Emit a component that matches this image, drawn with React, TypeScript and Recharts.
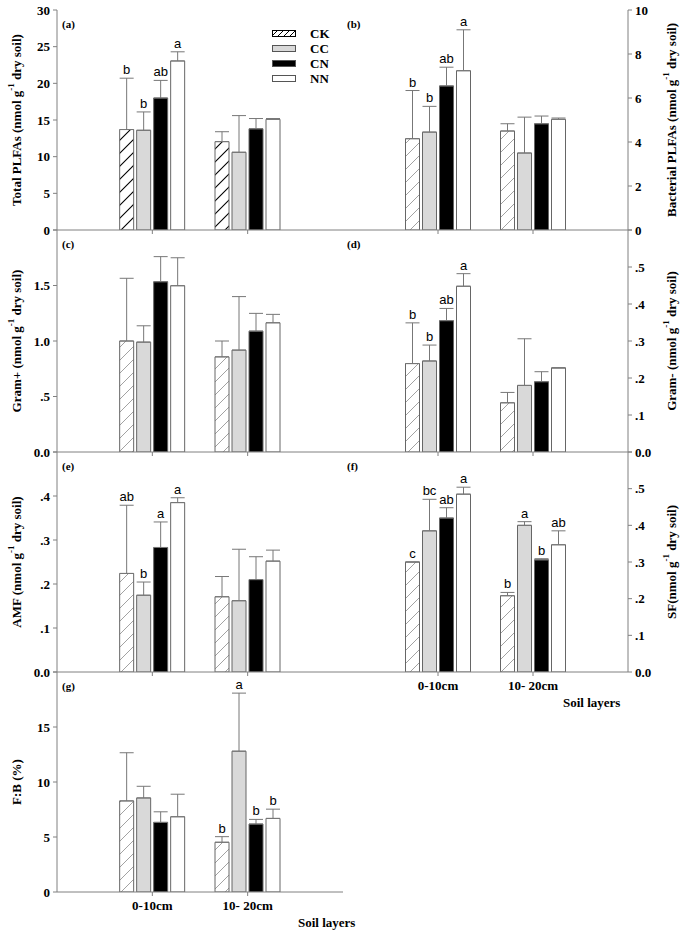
import React from "react";
import { Bar, BarChart, ErrorBar, LabelList, Legend, XAxis, YAxis } from "recharts";

const layers = ["0-10cm", "10- 20cm"];
const treatments = ["CK", "CC", "CN", "NN"];

// values read per layer: [CK, CC, CN, NN]; errors are the upper SD
const totalMean = [[13.7, 13.6, 18.0, 23.05], [12.05, 10.6, 13.8, 15.1]];
const totalErr = [[7.0, 2.5, 2.4, 1.25], [1.35, 5.0, 1.4, 0.1]];
const totalLetters = [["b", "b", "ab", "a"], ["", "", "", ""]];

const bactMean = [[4.15, 4.45, 6.55, 7.24], [4.5, 3.5, 4.83, 5.03]];
const bactErr = [[2.19, 1.17, 0.85, 1.86], [0.33, 1.63, 0.35, 0.06]];
const bactLetters = [["b", "b", "ab", "a"], ["", "", "", ""]];

const gposMean = [[1.0, 0.99, 1.534, 1.498], [0.857, 0.918, 1.089, 1.164]];
const gposErr = [[0.565, 0.147, 0.226, 0.252], [0.143, 0.482, 0.16, 0.076]];
const gposLetters = [["", "", "", ""], ["", "", "", ""]];

const gnegMean = [[0.239, 0.246, 0.355, 0.448], [0.133, 0.18, 0.19, 0.227]];
const gnegErr = [[0.11, 0.043, 0.033, 0.034], [0.028, 0.126, 0.027, 0.001]];
const gnegLetters = [["b", "b", "ab", "a"], ["", "", "", ""]];

const amfMean = [[0.224, 0.1745, 0.283, 0.385], [0.171, 0.162, 0.21, 0.252]];
const amfErr = [[0.155, 0.03, 0.058, 0.011], [0.046, 0.117, 0.052, 0.025]];
const amfLetters = [["ab", "b", "a", "a"], ["", "", "", ""]];

const sfMean = [[0.3, 0.385, 0.42, 0.485], [0.208, 0.4, 0.306, 0.347]];
const sfErr = [[0, 0.086, 0.028, 0.019], [0.009, 0.01, 0.003, 0.038]];
const sfLetters = [["c", "bc", "ab", "a"], ["b", "a", "b", "ab"]];

const fbMean = [[8.28, 8.55, 6.33, 6.84], [4.52, 12.8, 6.18, 6.69]];
const fbErr = [[4.38, 1.06, 0.96, 2.05], [0.51, 5.28, 0.42, 0.84]];
const fbLetters = [["", "", "", ""], ["b", "a", "b", "b"]];

const totalTicks = [0, 5, 10, 15, 20, 25, 30];
const bactTicks = [0, 2, 4, 6, 8, 10];
const gposTicks = [0, 0.5, 1.0, 1.5, 2.0];
const gnegTicks = [0, 0.1, 0.2, 0.3, 0.4, 0.5, 0.6];
const amfTicks = [0, 0.1, 0.2, 0.3, 0.4, 0.5];
const sfTicks = [0, 0.1, 0.2, 0.3, 0.4, 0.5, 0.6];
const fbTicks = [0, 5, 10, 15, 20];

const serif = "'Liberation Serif', 'Times New Roman', serif";
const sans = "'Liberation Sans', Arial, sans-serif";
const axisColor = "#808080";
const barStroke = "#666";
const fills: Record<string, string> = { CC: "#d9d9d9", CN: "#000", NN: "#fff" };

const intFmt = (v: number) => String(v);
const decFmt = (v: number) => (v === 0 ? "0.0" : v.toFixed(1).replace(/^0\./, "."));

type PanelDef = {
  id: string;
  side: "left" | "right";
  top: number;
  bottom: number;
  means: number[][];
  errs: number[][];
  letters: string[][];
  ticks: number[];
  hideTop: boolean;
  fmt: (v: number) => string;
  title: string[];
  showX: boolean;
  dark?: boolean;
  rightBorder?: boolean;
};

const panels: PanelDef[] = [
  { id: "a", side: "left", top: 10, bottom: 230, means: totalMean, errs: totalErr, letters: totalLetters, ticks: totalTicks, hideTop: false, fmt: intFmt, title: ["Total PLFAs (nmol g", " dry soil)"], showX: false, dark: true },
  { id: "b", side: "right", top: 10, bottom: 230, means: bactMean, errs: bactErr, letters: bactLetters, ticks: bactTicks, hideTop: false, fmt: intFmt, title: ["Bacterial PLFAs (nmol g", " dry soil)"], showX: false },
  { id: "c", side: "left", top: 230, bottom: 452, means: gposMean, errs: gposErr, letters: gposLetters, ticks: gposTicks, hideTop: true, fmt: decFmt, title: ["Gram+ (nmol g", " dry soil)"], showX: false },
  { id: "d", side: "right", top: 230, bottom: 452, means: gnegMean, errs: gnegErr, letters: gnegLetters, ticks: gnegTicks, hideTop: true, fmt: decFmt, title: ["Gram- (nmol g", " dry soil)"], showX: false },
  { id: "e", side: "left", top: 452, bottom: 672, means: amfMean, errs: amfErr, letters: amfLetters, ticks: amfTicks, hideTop: true, fmt: decFmt, title: ["AMF (nmol g", " dry soil)"], showX: false },
  { id: "f", side: "right", top: 452, bottom: 672, means: sfMean, errs: sfErr, letters: sfLetters, ticks: sfTicks, hideTop: true, fmt: decFmt, title: ["SF(nmol g", " dry soil)"], showX: true },
  { id: "g", side: "left", top: 672, bottom: 892, means: fbMean, errs: fbErr, letters: fbLetters, ticks: fbTicks, hideTop: true, fmt: intFmt, title: ["F:B (%)"], showX: true, rightBorder: true },
];

const buildRows = (p: PanelDef) =>
  layers.map((layer, i) => {
    const row: any = { layer };
    treatments.forEach((t, j) => {
      row[t] = p.means[i][j];
      row[t + "Err"] = [0, p.errs[i][j]];
    });
    return row;
  });

const letterContent = (p: PanelDef, j: number) => (props: any) => {
  const vb = props.viewBox;
  const index = props.index;
  const text = p.letters[index]?.[j];
  if (!text || !vb) return null;
  const h = Math.abs(vb.height);
  const top = Math.min(vb.y, vb.y + vb.height);
  const errTop = top - (p.errs[index][j] * h) / p.means[index][j];
  return (
    <text
      x={vb.x + vb.width / 2}
      y={errTop - 4}
      textAnchor="middle"
      fontFamily={sans}
      fontSize={13}
      fill="#000"
      style={{ fill: "#000" }}
    >
      {text}
    </text>
  );
};

const titleContent = (p: PanelDef) => (props: any) => {
  const vb = props.viewBox;
  if (!vb) return null;
  const cx = p.side === "left" ? vb.x + 4 : vb.x + 43;
  const cy = vb.y + vb.height / 2;
  return (
    <text x={cx} y={cy} transform={`rotate(-90, ${cx}, ${cy})`} textAnchor="middle" dominantBaseline="central" fontFamily={serif} fontWeight="bold" fontSize={13} fill="#000">
      <tspan>{p.title[0]}</tspan>
      {p.title.length > 1 && (
        <>
          <tspan fontSize={9} dy={-5}>-1</tspan>
          <tspan dy={5}>{p.title[1]}</tspan>
        </>
      )}
    </text>
  );
};

const HatchSwatch = () => (
  <svg width={24} height={7}>
    <defs>
      <pattern id="leg-hatch" patternUnits="userSpaceOnUse" width={6} height={6}>
        <rect width={6} height={6} fill="#fff" />
        <path d="M0,6 L6,0 M-1.5,1.5 L1.5,-1.5 M4.5,7.5 L7.5,4.5" stroke="#000" strokeWidth={1} />
      </pattern>
    </defs>
    <rect x={0.5} y={0.5} width={23} height={6} fill="url(#leg-hatch)" stroke="#000" />
  </svg>
);

const LegendBox = () => (
  <div style={{ fontFamily: serif, fontWeight: "bold", fontSize: 13 }}>
    {treatments.map((t) => (
      <div key={t} style={{ display: "flex", alignItems: "center", height: 15 }}>
        {t === "CK" ? (
          <HatchSwatch />
        ) : (
          <svg width={24} height={7}>
            <rect x={0.5} y={0.5} width={23} height={6} fill={fills[t]} stroke="#555" />
          </svg>
        )}
        <span style={{ marginLeft: 14, lineHeight: "15px" }}>{t}</span>
      </div>
    ))}
  </div>
);

const Panel = ({ p }: { p: PanelDef }) => {
  const plotH = p.bottom - p.top;
  const isLeft = p.side === "left";
  const chartLeft = isLeft ? 0 : 341;
  const chartW = isLeft ? 345 : 344;
  const plotW = isLeft ? 286 : 285;
  const pad = plotW / 6;
  const max = p.ticks[p.ticks.length - 1];
  const tickStyle = { fill: "#000", fontSize: 13, fontWeight: "bold", fontFamily: serif };
  const hatchId = `hatch-${p.id}`;

  return (
    <div style={{ position: "absolute", left: chartLeft, top: p.top - 10 }}>
      <BarChart
        width={chartW}
        height={plotH + 40}
        data={buildRows(p)}
        margin={isLeft ? { top: 10, right: 2, bottom: 0, left: 12 } : { top: 10, right: 0, bottom: 0, left: 2 }}
        barSize={14}
        barGap={3}
      >
        <defs>
          <pattern id={hatchId} patternUnits="userSpaceOnUse" width={13} height={13}>
            <rect width={13} height={13} fill="#fff" />
            <path
              d="M0,13 L13,0 M-3,3 L3,-3 M10,16 L16,10"
              stroke={p.dark ? "#000" : "#8a8a8a"}
              strokeWidth={p.dark ? 1.1 : 0.8}
            />
          </pattern>
        </defs>
        <XAxis
          dataKey="layer"
          padding={{ left: pad, right: pad }}
          height={30}
          interval={0}
          tickSize={4}
          tickMargin={5}
          axisLine={{ stroke: axisColor }}
          tickLine={{ stroke: axisColor }}
          tick={p.showX ? tickStyle : () => <g />}
        />
        <YAxis
          yAxisId="v"
          orientation={isLeft ? "left" : "right"}
          width={isLeft ? 45 : 57}
          domain={[0, max]}
          ticks={p.ticks}
          interval={0}
          allowDataOverflow
          tickSize={4}
          tickMargin={3}
          axisLine={{ stroke: axisColor }}
          tickLine={{ stroke: axisColor }}
          tick={tickStyle}
          tickFormatter={(v: number) => (p.hideTop && v === max ? "" : p.fmt(v))}
          label={{ content: titleContent(p) }}
        />
        {(!isLeft || p.rightBorder) && (
          <YAxis
            yAxisId="border"
            orientation={isLeft ? "right" : "left"}
            width={0}
            domain={[0, 1]}
            tick={false}
            tickLine={false}
            axisLine={{ stroke: axisColor }}
          />
        )}
        {treatments.map((t, j) => (
          <Bar
            key={t}
            yAxisId="v"
            dataKey={t}
            fill={t === "CK" ? `url(#${hatchId})` : fills[t]}
            stroke={barStroke}
            strokeWidth={1}
            isAnimationActive={false}
          >
            <ErrorBar dataKey={t + "Err"} direction="y" width={7} stroke="#777" strokeWidth={1} />
            <LabelList dataKey={t} content={letterContent(p, j)} />
          </Bar>
        ))}
        {p.id === "a" && (
          <Legend
            layout="vertical"
            align="center"
            verticalAlign="middle"
            content={() => <LegendBox />}
            wrapperStyle={{ position: "absolute", left: 272, top: 26, width: 70, height: 62 }}
          />
        )}
      </BarChart>
    </div>
  );
};

const tagStyle: React.CSSProperties = {
  position: "absolute",
  fontFamily: serif,
  fontWeight: "bold",
  fontSize: 11,
  lineHeight: "11px",
};

const footStyle: React.CSSProperties = {
  position: "absolute",
  fontFamily: serif,
  fontWeight: "bold",
  fontSize: 13,
  lineHeight: "14px",
};

export default function App() {
  return (
    <div style={{ position: "absolute", left: 0, top: 0, width: 685, height: 935, background: "#fff" }}>
      {panels.map((p) => (
        <Panel key={p.id} p={p} />
      ))}
      {panels.map((p) => (
        <div key={"tag" + p.id} style={{ ...tagStyle, left: p.side === "left" ? 62 : 347, top: p.top + 9 }}>
          ({p.id})
        </div>
      ))}
      <div style={{ ...footStyle, left: 563, top: 696 }}>Soil layers</div>
      <div style={{ ...footStyle, left: 298, top: 916 }}>Soil layers</div>
    </div>
  );
}
